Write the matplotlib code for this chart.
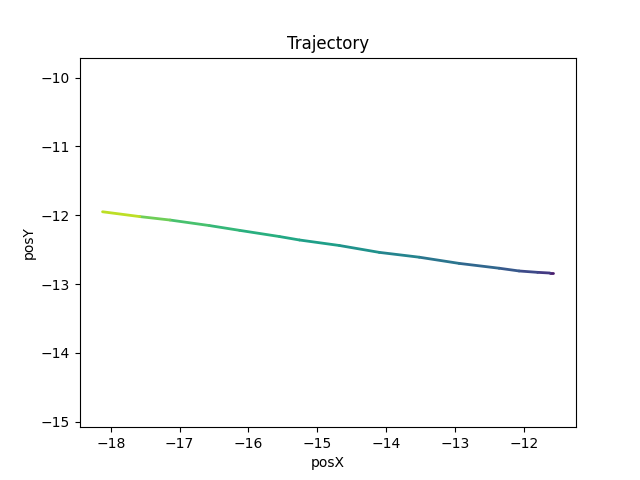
import numpy as np
import matplotlib
matplotlib.use('Agg')
import matplotlib.pyplot as plt
from matplotlib.collections import LineCollection

# Trajectory waypoints (start at the right, end at the left)
pos_x = [-11.57, -11.62, -11.80, -12.07, -12.36, -12.94, -13.52, -14.10, -14.68,
         -15.26, -15.55, -16.13, -16.57, -17.14, -17.58, -18.12]
pos_y = [-12.84, -12.84, -12.83, -12.81, -12.77, -12.70, -12.61, -12.54, -12.44,
         -12.36, -12.31, -12.22, -12.15, -12.07, -12.02, -11.95]
# Normalised time at each waypoint (drives the colour)
t_norm = [0.0, 0.14, 0.20, 0.25, 0.30, 0.36, 0.42, 0.48, 0.54,
          0.58, 0.61, 0.65, 0.68, 0.74, 0.82, 0.98]


def main():
    fig, ax = plt.subplots(figsize=(6.4, 4.8), dpi=100)

    pts = np.column_stack([pos_x, pos_y])
    segs = np.stack([pts[:-1], pts[1:]], axis=1)
    t = np.array(t_norm)
    seg_c = (t[:-1] + t[1:]) / 2

    lc = LineCollection(segs, cmap='viridis', linewidth=2, capstyle='round')
    lc.set_array(seg_c)
    lc.set_clim(0, 1)
    ax.add_collection(lc)
    ax.autoscale()
    ax.set_aspect('equal', adjustable='datalim')

    ax.set_title('Trajectory')
    ax.set_xlabel('posX')
    ax.set_ylabel('posY')
    fig.savefig('out.png')


if __name__ == '__main__':
    main()
